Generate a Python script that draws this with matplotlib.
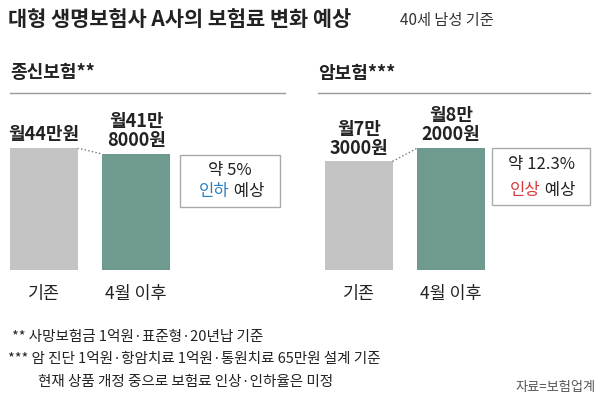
import matplotlib
matplotlib.use("Agg")
import matplotlib.pyplot as plt
from matplotlib.patches import Rectangle

plt.rcParams["font.family"] = ["Noto Sans CJK JP", "Noto Sans CJK KR", "Noto Sans CJK SC", "DejaVu Sans"]

categories = ["기존", "4월 이후"]
life_values = [44.0, 41.8]
cancer_values = [7.3, 8.2]
life_labels = ["월44만원", "월41만\n8000원"]
cancer_labels = ["월7만\n3000원", "월8만\n2000원"]
colors = ["#c4c4c4", "#6f9a90"]

W, H = 600, 401
fig = plt.figure(figsize=(6, 4.01), dpi=100)

def fx(px): return px / W
def fy(py): return 1 - py / H

def panel(x0, x1, values, labels):
    top_px = 148
    ax = fig.add_axes([fx(x0), fy(270), fx(x1 - x0), (270 - top_px) / H])
    ax.bar([0, 1], values, width=0.73, color=colors)
    ax.set_xlim(-0.365, 1.365)
    ax.set_ylim(0, max(values))
    ax.axis("off")
    ax.plot([0.365, 0.635], values, ls=":", color="#777777", lw=1)
    for i, (v, lab) in enumerate(zip(values, labels)):
        ax.text(i, v + max(values) * 0.03, lab, ha="center", va="bottom",
                fontsize=13, fontweight="bold", color="#222222", linespacing=1.0)
        ax.text(i, -max(values) * 0.12, categories[i], ha="center", va="top",
                fontsize=12.5, color="#222222")
    return ax

panel(10, 170, life_values, life_labels)
panel(325, 485, cancer_values, cancer_labels)

fig.text(fx(8), fy(20), "대형 생명보험사 A사의 보험료 변화 예상", fontsize=15,
         fontweight="bold", va="center", color="#222222")
fig.text(fx(400), fy(20), "40세 남성 기준", fontsize=11, va="center", color="#333333")

fig.text(fx(10), fy(73), "종신보험**", fontsize=13, fontweight="bold", va="center", color="#222222")
fig.text(fx(318), fy(73), "암보험***", fontsize=13, fontweight="bold", va="center", color="#222222")
fig.add_artist(plt.Line2D([fx(10), fx(285)], [fy(93), fy(93)], color="#999999", lw=1))
fig.add_artist(plt.Line2D([fx(318), fx(590)], [fy(93), fy(93)], color="#999999", lw=1))

for (bx0, by0, bx1, by1, pct, word, wc) in [
        (180, 155, 280, 207, "약 5%", "인하", "#2a7fc1"),
        (492, 148, 590, 205, "약 12.3%", "인상", "#d63a3a")]:
    fig.add_artist(Rectangle((fx(bx0), fy(by1)), fx(bx1 - bx0), (by1 - by0) / H,
                             fill=False, ec="#aaaaaa", lw=1, transform=fig.transFigure))
    cx = fx((bx0 + bx1) / 2)
    fig.text(cx, fy(by0 + 16), pct, ha="center", va="center", fontsize=12, color="#222222")
    fig.text(cx, fy(by1 - 15), word, ha="right", va="center", fontsize=12, color=wc)
    fig.text(cx, fy(by1 - 15), " 예상", ha="left", va="center", fontsize=12, color="#222222")

fig.text(fx(12), fy(337), "** 사망보험금 1억원·표준형·20년납 기준", fontsize=10.5, va="center", color="#222222")
fig.text(fx(8), fy(359), "*** 암 진단 1억원·항암치료 1억원·통원치료 65만원 설계 기준", fontsize=10.5, va="center", color="#222222")
fig.text(fx(38), fy(382), "현재 상품 개정 중으로 보험료 인상·인하율은 미정", fontsize=10.5, va="center", color="#222222")
fig.text(fx(596), fy(387), "자료=보험업계", fontsize=9.5, ha="right", va="center", color="#555555")

fig.savefig("out.png", dpi=100)
